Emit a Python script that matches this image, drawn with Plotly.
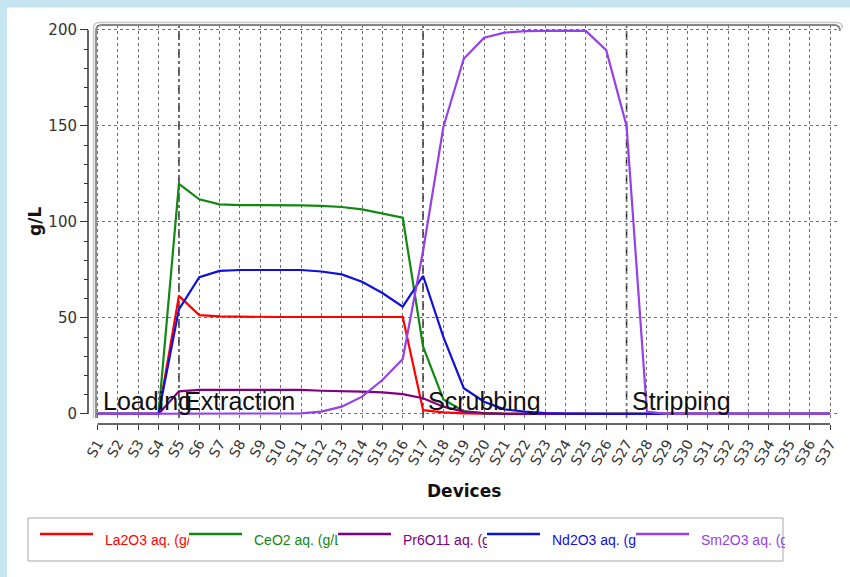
import plotly.graph_objects as go

W, H = 850, 577

devices = ["S1", "S2", "S3", "S4", "S5", "S6", "S7", "S8", "S9", "S10",
           "S11", "S12", "S13", "S14", "S15", "S16", "S17", "S18", "S19", "S20",
           "S21", "S22", "S23", "S24", "S25", "S26", "S27", "S28", "S29", "S30",
           "S31", "S32", "S33", "S34", "S35", "S36", "S37"]

la2o3 = [0, 0, 0, 0, 61.5, 51.5, 50.8, 50.6, 50.5, 50.5,
         50.5, 50.5, 50.5, 50.5, 50.5, 50.5, 2.0, 0.8, 0.3, 0.1,
         0, 0, 0, 0, 0, 0, 0, 0, 0, 0,
         0, 0, 0, 0, 0, 0, 0]
ceo2 = [0, 0, 0, 0, 119.8, 111.8, 109.2, 108.8, 108.8, 108.8,
        108.7, 108.4, 107.8, 106.6, 104.5, 102.2, 35.0, 7.5, 1.5, 0.3,
        0.1, 0, 0, 0, 0, 0, 0, 0, 0, 0,
        0, 0, 0, 0, 0, 0, 0]
pr6o11 = [0, 0, 0, 0, 11.8, 12.5, 12.5, 12.5, 12.5, 12.5,
          12.5, 12.1, 12.0, 11.6, 11.2, 10.3, 8.2, 3.8, 1.2, 0.4,
          0.1, 0, 0, 0, 0, 0, 0, 0, 0, 0,
          0, 0, 0, 0, 0, 0, 0]
nd2o3 = [0, 0, 0, 0, 54.5, 71.2, 74.5, 75.0, 75.0, 75.0,
         75.0, 74.2, 72.7, 68.9, 63.0, 55.9, 72.0, 40.0, 13.4, 6.4,
         2.4, 1.2, 0.5, 0.2, 0, 0, 0, 0, 0, 0,
         0, 0, 0, 0, 0, 0, 0]
sm2o3 = [0, 0, 0, 0, 0, 0, 0, 0, 0, 0,
         0.3, 1.2, 3.8, 9.0, 17.7, 28.6, 85.0, 149.6, 185.0, 196.0,
         198.6, 199.4, 199.7, 199.7, 199.5, 189.5, 150.0, 1.2, 0, 0,
         0, 0, 0, 0, 0, 0, 0]

series_names = ["La2O3 aq. (g/L)", "CeO2 aq. (g/L)", "Pr6O11 aq. (g/L)",
                "Nd2O3 aq. (g/L)", "Sm2O3 aq. (g/L)"]
series_values = [la2o3, ceo2, pr6o11, nd2o3, sm2o3]
series_colors = ["#ff0000", "#118811", "#800080", "#1010dd", "#9440ec"]

stage_names = ["Loading", "Extraction", "Scrubbing", "Stripping"]
stage_starts = ["S1", "S5", "S17", "S27"]
yticks = [0, 50, 100, 150, 200]


def px(p):
    return p / W


def py(p):
    return 1 - p / H


fig = go.Figure()
for name, vals, col in zip(series_names, series_values, series_colors):
    fig.add_trace(go.Scatter(x=devices, y=vals, mode="lines", name=name,
                             line=dict(color=col, width=2.2), showlegend=False))

shapes = []
# white panel over the light-blue page
shapes.append(dict(type="rect", xref="paper", yref="paper", x0=px(7), x1=1.0,
                   y0=0.0, y1=py(7.5), fillcolor="white", line=dict(width=0),
                   layer="below"))
# stage separators
for s in stage_starts[1:]:
    shapes.append(dict(type="line", xref="x", yref="paper", x0=s, x1=s,
                       y0=py(418), y1=py(25),
                       line=dict(color="#222222", width=1.5, dash="dashdot"),
                       layer="between"))
# axis lines
shapes.append(dict(type="line", xref="x", yref="paper", x0=devices[0], x1=devices[-1],
                   y0=py(424), y1=py(424), line=dict(color="#333333", width=1.5)))
shapes.append(dict(type="line", xref="paper", yref="y", x0=px(88), x1=px(88),
                   y0=0, y1=200, line=dict(color="#333333", width=1.5)))


# rounded frame (outer light, inner darker)
def frame_path(off):
    L, T, R, B, r = 96 - off, 25 - off, 840 + off, 418, 6
    return (f"M {px(L)},{py(B)} L {px(L)},{py(T + r)} "
            f"Q {px(L)},{py(T)} {px(L + r)},{py(T)} "
            f"L {px(R - r)},{py(T)} Q {px(R)},{py(T)} {px(R)},{py(T + r)}")


shapes.append(dict(type="path", xref="paper", yref="paper", path=frame_path(2.5),
                   line=dict(color="#c8c8c8", width=1.5)))
shapes.append(dict(type="path", xref="paper", yref="paper", path=frame_path(0),
                   line=dict(color="#858585", width=1.8)))

# custom legend
shapes.append(dict(type="rect", xref="paper", yref="paper", x0=px(28), x1=px(783),
                   y0=py(561), y1=py(518), fillcolor="white",
                   line=dict(color="#a8a8a8", width=1)))
annotations = []
for i, (name, col) in enumerate(zip(series_names, series_colors)):
    x0 = 40 + i * 149
    shapes.append(dict(type="line", xref="paper", yref="paper", x0=px(x0), x1=px(x0 + 53),
                       y0=py(534), y1=py(534), line=dict(color=col, width=2.5)))
    annotations.append(dict(text=name, xref="paper", yref="paper", x=px(x0 + 63),
                            y=py(540), xanchor="left", yanchor="middle", width=84,
                            align="left", showarrow=False,
                            font=dict(family="Liberation Sans, Arial", size=14, color=col)))

# stage labels
for name, s in zip(stage_names, stage_starts):
    annotations.append(dict(text=name, xref="x", yref="y", x=s, y=0,
                            xanchor="left", yanchor="bottom", xshift=3, yshift=-3,
                            showarrow=False,
                            font=dict(family="Liberation Sans, Arial", size=25, color="#111111")))

# axis titles
annotations.append(dict(text="<b>g/L</b>", xref="paper", yref="paper", x=px(35), y=py(222),
                        xanchor="center", yanchor="middle",
                        textangle=-90, showarrow=False,
                        font=dict(family="DejaVu Sans", size=17, color="#111111")))
annotations.append(dict(text="<b>Devices</b>", xref="paper", yref="paper", x=px(464), y=py(491),
                        xanchor="center", yanchor="middle",
                        showarrow=False,
                        font=dict(family="DejaVu Sans", size=17, color="#111111")))

fig.update_layout(
    template="none",
    width=W, height=H,
    autosize=False,
    margin=dict(l=0, r=0, t=0, b=0, pad=0, autoexpand=False),
    paper_bgcolor="#c5e5f1",
    plot_bgcolor="white",
    showlegend=False,
    shapes=shapes,
    annotations=annotations,
    xaxis=dict(
        domain=[px(95.5), px(840.2)],
        type="category",
        range=[-0.1, 36.5],
        automargin=False,
        tickmode="array", tickvals=devices, ticktext=devices,
        tickangle=-60,
        anchor="free", position=py(424),
        showline=False, zeroline=False,
        ticks="outside", ticklen=5, tickwidth=1, tickcolor="#333333",
        showgrid=True, gridcolor="#707070", griddash="dot", gridwidth=1,
        tickfont=dict(family="DejaVu Sans", size=14, color="#333333"),
    ),
    yaxis=dict(
        domain=[py(418), py(25)],
        range=[-2.1, 202.6],
        automargin=False,
        tickmode="array", tickvals=yticks,
        anchor="free", position=px(88),
        showline=False, zeroline=False,
        ticks="outside", ticklen=8, tickwidth=1, tickcolor="#333333",
        minor=dict(dtick=10, ticks="outside", ticklen=4, tickcolor="#333333", showgrid=False),
        showgrid=True, gridcolor="#707070", griddash="dot", gridwidth=1,
        tickfont=dict(family="DejaVu Sans", size=15, color="#333333"),
    ),
)

fig.write_html(
    "out.html",
    config={"displayModeBar": False, "responsive": False},
    post_script="document.body.style.margin='0';document.body.style.padding='0';"
                "document.body.style.overflow='hidden';"
                "document.documentElement.style.overflow='hidden';",
)
